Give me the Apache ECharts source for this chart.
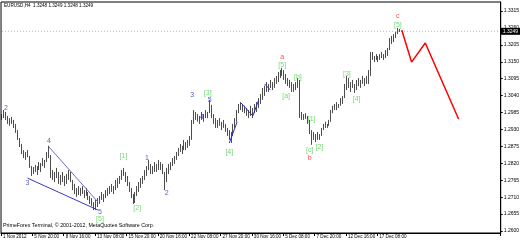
<!DOCTYPE html>
<html><head><meta charset="utf-8">
<script src="https://cdn.jsdelivr.net/npm/echarts@6/dist/echarts.min.js"></script>
<style>html,body{margin:0;padding:0;background:#fff}#c{width:522px;height:241px}</style>
</head><body><div id="c"></div>
<script>
// EURUSD H4 bar highs / lows
const barHighs = [1.2980,1.2993,1.2987,1.2974,1.2967,1.2971,1.2961,1.2948,1.2928,1.2902,
1.2883,1.2863,1.2857,1.2863,1.2844,1.2811,1.2808,1.2815,1.2811,1.2824,
1.2821,1.2837,1.2831,1.2857,1.2877,1.2847,1.2798,1.2792,1.2805,1.2792,
1.2782,1.2792,1.2779,1.2785,1.2798,1.2792,1.2766,1.2753,1.2740,1.2746,
1.2740,1.2746,1.2733,1.2740,1.2727,1.2714,1.2707,1.2694,1.2701,1.2707,
1.2714,1.2727,1.2720,1.2733,1.2740,1.2746,1.2753,1.2746,1.2766,1.2772,
1.2779,1.2798,1.2805,1.2792,1.2779,1.2759,1.2740,1.2720,1.2727,1.2746,
1.2759,1.2772,1.2779,1.2798,1.2811,1.2831,1.2818,1.2811,1.2824,1.2818,
1.2831,1.2824,1.2818,1.2792,1.2805,1.2818,1.2824,1.2837,1.2844,1.2857,
1.2870,1.2883,1.2877,1.2896,1.2889,1.2896,1.2909,1.2961,1.2993,1.2987,
1.2980,1.2974,1.2987,1.2980,1.2993,1.2987,1.3026,1.3010,1.2980,1.2967,
1.2961,1.2967,1.2955,1.2961,1.2948,1.2935,1.2928,1.2922,1.2948,1.2967,
1.2993,1.3013,1.3019,1.3013,1.3007,1.3000,1.2993,1.3007,1.3000,1.3013,
1.3019,1.3032,1.3045,1.3065,1.3072,1.3084,1.3078,1.3091,1.3084,1.3097,
1.3104,1.3117,1.3123,1.3130,1.3123,1.3110,1.3097,1.3091,1.3084,1.3078,
1.3084,1.3097,1.3091,1.2987,1.2980,1.2983,1.2974,1.2961,1.2928,1.2922,
1.2915,1.2922,1.2915,1.2935,1.2948,1.2955,1.2948,1.2961,1.2993,1.3007,
1.3013,1.3019,1.3013,1.3032,1.3039,1.3078,1.3104,1.3097,1.3084,1.3091,
1.3078,1.3091,1.3097,1.3091,1.3104,1.3097,1.3104,1.3123,1.3182,1.3182,
1.3169,1.3175,1.3169,1.3175,1.3182,1.3175,1.3188,1.3195,1.3227,1.3234,
1.3240,1.3247,1.3260,1.3257];
const barLows = [1.2961,1.2967,1.2961,1.2948,1.2942,1.2948,1.2935,1.2919,1.2896,1.2873,
1.2850,1.2837,1.2831,1.2840,1.2805,1.2779,1.2785,1.2792,1.2782,1.2798,
1.2792,1.2811,1.2805,1.2824,1.2837,1.2772,1.2766,1.2759,1.2772,1.2753,
1.2750,1.2759,1.2746,1.2753,1.2766,1.2759,1.2733,1.2720,1.2711,1.2717,
1.2714,1.2720,1.2707,1.2714,1.2701,1.2688,1.2681,1.2668,1.2668,1.2678,
1.2688,1.2701,1.2694,1.2707,1.2714,1.2720,1.2727,1.2720,1.2733,1.2740,
1.2753,1.2766,1.2779,1.2759,1.2746,1.2727,1.2707,1.2688,1.2691,1.2714,
1.2727,1.2740,1.2753,1.2766,1.2779,1.2798,1.2785,1.2785,1.2792,1.2792,
1.2798,1.2798,1.2785,1.2733,1.2759,1.2785,1.2798,1.2811,1.2818,1.2831,
1.2844,1.2857,1.2850,1.2863,1.2863,1.2870,1.2877,1.2896,1.2948,1.2961,
1.2955,1.2948,1.2961,1.2955,1.2967,1.2967,1.2983,1.2967,1.2948,1.2935,
1.2935,1.2942,1.2928,1.2935,1.2922,1.2909,1.2896,1.2886,1.2909,1.2935,
1.2955,1.2983,1.2993,1.2987,1.2983,1.2974,1.2967,1.2974,1.2967,1.2983,
1.2987,1.3000,1.3013,1.3026,1.3039,1.3052,1.3052,1.3065,1.3058,1.3065,
1.3078,1.3084,1.3097,1.3104,1.3091,1.3078,1.3071,1.3065,1.3052,1.3052,
1.3058,1.3065,1.2967,1.2961,1.2961,1.2964,1.2948,1.2915,1.2880,1.2896,
1.2889,1.2896,1.2896,1.2909,1.2928,1.2935,1.2935,1.2942,1.2955,1.2983,
1.2993,1.2993,1.3000,1.3007,1.3013,1.3032,1.3058,1.3065,1.3052,1.3065,
1.3049,1.3058,1.3071,1.3065,1.3078,1.3071,1.3078,1.3078,1.3104,1.3156,
1.3149,1.3156,1.3149,1.3156,1.3162,1.3156,1.3162,1.3169,1.3188,1.3208,
1.3214,1.3227,1.3240,1.3247];

const priceTicks = [1.2600,1.2655,1.2710,1.2765,1.2820,1.2875,1.2930,1.2985,1.3040,1.3095,1.3150,1.3205,1.3260,1.3315];
const timeLabels = ["1 Nov 2012","5 Nov 20:00","8 Nov 16:00","13 Nov 08:00","15 Nov 20:00","20 Nov 16:00","22 Nov 08:00","27 Nov 20:00","30 Nov 16:00","5 Dec 08:00","7 Dec 20:00","12 Dec 16:00","17 Dec 08:00"];
const barsPerLabel = 16;
const totalSlots = 255;
const currentPrice = 1.3249;
const headerText = "EURUSD,H4  1.3248 1.3249 1.3248 1.3249";
const footerText = "PrimeForex Terminal, \u00a9 2001-2012, MetaQuotes Software Corp.";

// wave labels: [text, barIndex, price]
const blueLabels = [["2",2,1.3000],["3",13,1.2756],["4",24,1.2893],["5",50,1.2662],["1",74,1.2838],["2",84,1.2724],["3",97,1.3042],["4",102,1.2971],["5",106,1.3026]];
const greenLabels = [["[5]",50,1.2639],["[1]",62,1.2844],["[2]",69,1.2675],["[3]",105,1.3049],["[4]",116,1.2857],["[5]",143,1.3140],["[a]",145,1.3039],["[b]",151,1.3101],["[1]",158,1.2964],["[c]",157,1.2863],["[2]",162,1.2873],["[3]",176,1.3111],["[4]",181,1.3029],["[5]",202,1.3270]];
const redLabels = [["a",143,1.3166],["b",157,1.2838],["c",202,1.3299]];

const wedgeUpper = [[24,1.2873],[49,1.2694]];
const wedgeLower = [[13,1.2772],[49,1.2668]];
const blueWave1 = [[116,1.2886],[120,1.2955]];
const blueWave2 = [[122,1.3016],[128,1.2974],[131,1.3026]];
const blueWave3 = [[134,1.3078],[137,1.3058]];
const redProjection = [[204,1.3253],[209,1.3149],[216,1.3211],[233,1.2964]];

const chart = echarts.init(document.getElementById('c'), null, {renderer:'canvas'});
const FONT = 'Liberation Sans';
const slots = Array.from({length: totalSlots}, (_, i) => String(i));
const candles = barHighs.map((h, i) => [barLows[i], h, barLows[i], h]);
const priceLine = [[0, currentPrice], [totalSlots - 1, currentPrice]];

function labelSeries(list, color) {
  return {
    type: 'scatter', symbolSize: 0, silent: true, z: 5,
    data: list.map(d => ({name: d[0], value: [d[1], d[2]]})),
    label: {show: true, position: 'inside', formatter: p => p.name, color: color, fontSize: 7, fontFamily: FONT}
  };
}
function lineSeries(pts, color, width) {
  return {type: 'line', data: pts, symbol: 'none', silent: true, z: 4,
    lineStyle: {color: color, width: width}};
}

chart.setOption({
  animation: false,
  backgroundColor: '#fff',
  grid: {left: 1, right: 19, top: 2, bottom: 8, show: true, borderColor: '#000', borderWidth: 1, backgroundColor: 'transparent'},
  xAxis: {
    type: 'category', data: slots, boundaryGap: true,
    axisLine: {show: true, lineStyle: {color: '#000', width: 1}},
    axisTick: {show: true, length: 3, interval: (i) => i % barsPerLabel === 0 && i / barsPerLabel < timeLabels.length, lineStyle: {color: '#000'}},
    axisLabel: {show: true, interval: (i) => i % barsPerLabel === 0 && i / barsPerLabel < timeLabels.length,
      formatter: (v, i) => timeLabels[Math.round(i / barsPerLabel)] || '', align: 'left', margin: 1, padding: [0,0,0,1],
      color: '#000', fontSize: 4.6, fontFamily: FONT},
    splitLine: {show: false}
  },
  yAxis: {
    type: 'value', position: 'right', min: 1.25935, max: 1.33443, scale: true,
    axisLine: {show: true, lineStyle: {color: '#000', width: 1}},
    axisTick: {show: true, length: 2, customValues: priceTicks, lineStyle: {color: '#000'}},
    axisLabel: {show: true, customValues: priceTicks, formatter: v => v.toFixed(4), margin: 3, color: '#000', fontSize: 5, fontFamily: FONT},
    splitLine: {show: false}
  },
  series: [
    {
      type: 'line', data: priceLine, symbol: 'none', silent: true, z: 2,
      lineStyle: {type: [1, 2], color: '#c9a9b6', width: 1},
      endLabel: {show: true, formatter: currentPrice.toFixed(4), backgroundColor: '#000', color: '#fff',
        fontSize: 5, fontFamily: FONT, padding: [1, 2, 1, 2], distance: 1}
    },
    {
      type: 'candlestick', data: candles, barWidth: 1.3, z: 3,
      itemStyle: {color: '#000', color0: '#000', borderColor: '#000', borderColor0: '#000', borderWidth: 0.7}
    },
    lineSeries(wedgeUpper, '#6a6ad0', 1),
    lineSeries(wedgeLower, '#3838c0', 1),
    lineSeries(blueWave1, '#2828d8', 1),
    lineSeries(blueWave2, '#2828d8', 1),
    lineSeries(blueWave3, '#2828d8', 1),
    lineSeries(redProjection, '#ff0000', 1.5),
    labelSeries(blueLabels, '#3030d0'),
    labelSeries(greenLabels, '#55cc55'),
    labelSeries(redLabels, '#ff2020')
  ],
  graphic: [
    {type: 'text', left: 4, top: 3, style: {text: headerText, fontSize: 4.6, fontFamily: FONT, fill: '#000'}, z: 10},
    {type: 'text', left: 3, top: 223, style: {text: footerText, fontSize: 5.3, fontFamily: FONT, fill: '#000'}, z: 10}
  ]
});
</script></body></html>
